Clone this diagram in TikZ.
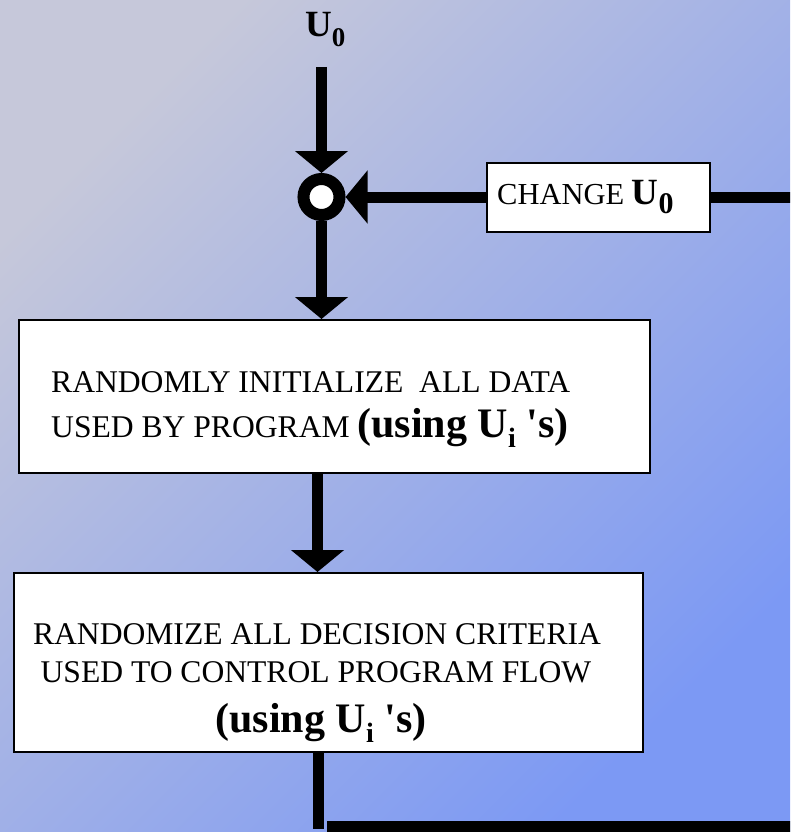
\documentclass[tikz,border=0pt]{standalone}
\usepackage{fontspec}
\setmainfont{Liberation Serif}
\usetikzlibrary{arrows.meta}
\definecolor{bgA}{RGB}{198,200,218}
\definecolor{bgB}{RGB}{124,153,244}
\begin{document}
\begin{tikzpicture}[x=1pt,y=-1pt,
  box/.style={draw=black,line width=2pt,fill=white,rectangle,inner sep=0pt},
  flow/.style={line width=11pt,-{Triangle[width=52pt,length=22pt]}},
  bar/.style={line width=11pt},
  lbl/.style={inner sep=0pt,font=\fontsize{31.6}{31}\selectfont},
  ring/.style={circle,draw=black,line width=12pt,fill=white,minimum size=36pt,inner sep=0pt}]
\useasboundingbox (0,0) rectangle (790,832);
\clip (0,0) rectangle (790,832);
\shade[top color=bgA,bottom color=bgB,shading angle=45] (0,0) rectangle (790,832);

% nodes
\node[lbl,anchor=base west] (ulabel) at (305,37)
  {\fontsize{37}{37}\selectfont\bfseries U\raisebox{-10pt}{\fontsize{27}{27}\selectfont 0}};
\coordinate (src) at (321.5,67);
\node[ring] (junction) at (321.5,197) {};
\node[box,minimum width=223pt,minimum height=69pt] (change) at (598.5,197) {};
\node[lbl,anchor=base west] (changetxt) at (497,204)
  {\fontsize{30.5}{30}\selectfont CHANGE {\fontsize{37}{37}\selectfont\bfseries U\raisebox{-9pt}{\fontsize{30}{30}\selectfont 0}}};
\coordinate (exitR) at (800,197);

\node[box,minimum width=631pt,minimum height=153pt] (init) at (334.5,396.5) {};
\node[lbl,anchor=base west] (initA) at (51,392.5) {RANDOMLY INITIALIZE\ \ ALL DATA};
\node[lbl,anchor=base west] (initB) at (51,437.5)
  {USED BY PROGRAM {\fontsize{42}{42}\selectfont\bfseries (using U\raisebox{-10pt}{\fontsize{28}{28}\selectfont i} \textquotesingle s)}};

\node[box,minimum width=629pt,minimum height=179pt] (rand) at (328.5,662.5) {};
\node[lbl,anchor=base] (randA) at (317,644.5) {RANDOMIZE ALL DECISION CRITERIA};
\node[lbl,anchor=base] (randB) at (316,682.5) {USED TO CONTROL PROGRAM FLOW};
\node[lbl,anchor=base] (randC) at (321,732)
  {\fontsize{42}{42}\selectfont\bfseries (using U\raisebox{-10pt}{\fontsize{28}{28}\selectfont i} \textquotesingle s)};

\coordinate (midB) at (317.5,473);
\coordinate (botV) at (318.5,829);
\coordinate (botH) at (327,826.5);
\coordinate (botR) at (800,826.5);

% connectors
\draw[flow] (src) -- (junction.north);
\draw[flow] (junction.south) -- (junction.south |- init.north);
\draw[flow] (change.west) -- (change.west -| junction.east);
\draw[bar] (change.east) -- (change.east -| exitR);
\draw[flow] (init.south -| midB) -- (rand.north -| midB);
\draw[bar] (rand.south -| botV) -- (botV);
\draw[bar] (botH) -- (botR);
\end{tikzpicture}
\end{document}
